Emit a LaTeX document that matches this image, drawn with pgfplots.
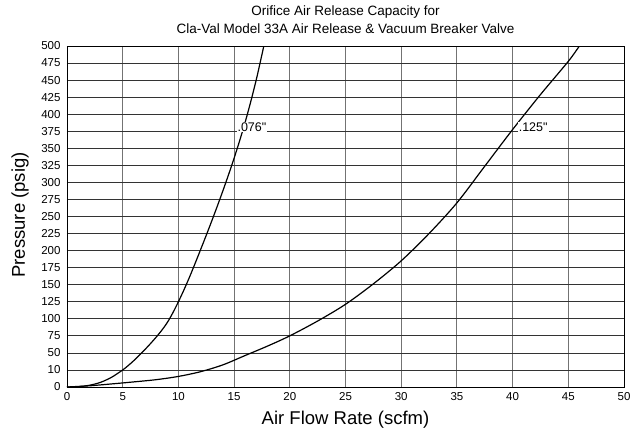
\documentclass[border=0pt]{standalone}
\usepackage{pgfplots}
\pgfplotsset{compat=1.18}
\usepackage{fontspec}
\setmainfont{Liberation Sans}
\begin{document}
\begin{tikzpicture}
\begin{axis}[
  scale only axis, width=557pt, height=341pt,
  xmin=0, xmax=50, ymin=0, ymax=20,
  xtick={0,5,...,50},
  ytick={0,1,...,20},
  yticklabels={0,10,50,75,100,125,150,175,200,225,250,275,300,325,350,375,400,425,450,475,500},
  /pgf/number format/assume math mode=true,
  tick label style={font=\fontsize{11.5}{13}\selectfont},
  xticklabel style={yshift=-2pt},
  yticklabel style={xshift=-3pt},
  major tick length=0pt,
  grid=major,
  every axis x grid/.style={black!55, line width=0.9pt},
  every axis y grid/.style={black!80, line width=0.8pt},
  axis line style={black, line width=0.9pt},
  clip=true,
]
\addplot[black, line width=1.2pt, smooth] coordinates {
(0,0) (1,0.02) (2,0.1) (3,0.27) (4,0.57) (5,1.0) (5.5,1.26) (6,1.55) (6.5,1.87) (7,2.2) (7.5,2.55) (8,2.92) (8.5,3.32) (9,3.78) (9.5,4.35) (10,5.0) (10.5,5.7) (11,6.45) (11.5,7.25) (12,8.07) (12.5,8.9) (13,9.75) (13.5,10.62) (14,11.52) (14.5,12.45) (15,13.42) (15.5,14.45) (16,15.55) (16.5,16.75) (17,18.05) (17.5,19.5) (17.7,20.1)
};
\addplot[black, line width=1.2pt, smooth] coordinates {
(0,0) (2,0.07) (4,0.18) (6,0.3) (8,0.43) (10,0.62) (12,0.9) (14,1.3) (16,1.85) (18,2.4) (20,3.0) (22.5,3.87) (25,4.85) (27.5,6.05) (30,7.4) (32.5,9.0) (35,10.8) (37.5,12.95) (40,15.1) (42.5,17.15) (45,19.1) (46,20) (46.5,20.4)
};
\node[fill=white, inner sep=1pt, anchor=west, font=\fontsize{12.5}{13}\selectfont] at (axis cs:15.2,15.25) {.076\textquotedbl};
\node[fill=white, inner sep=1pt, anchor=west, font=\fontsize{12.5}{13}\selectfont] at (axis cs:40.45,15.25) {.125\textquotedbl};
\end{axis}
\begin{scope}
\node[font=\fontsize{13.5}{15}\selectfont] at (278.5pt,375pt) {Orifice Air Release Capacity for};
\node[font=\fontsize{13.5}{15}\selectfont] at (278.5pt,358pt) {Cla-Val Model 33A Air Release \& Vacuum Breaker Valve};
\node[font=\fontsize{18.5}{20}\selectfont] at (278.5pt,-33pt) {Air Flow Rate (scfm)};
\node[font=\fontsize{18.5}{20}\selectfont, rotate=90] at (-47pt,172pt) {Pressure (psig)};
\path (-67pt,-44pt) rectangle (575pt,387pt);
\end{scope}
\end{tikzpicture}
\end{document}
